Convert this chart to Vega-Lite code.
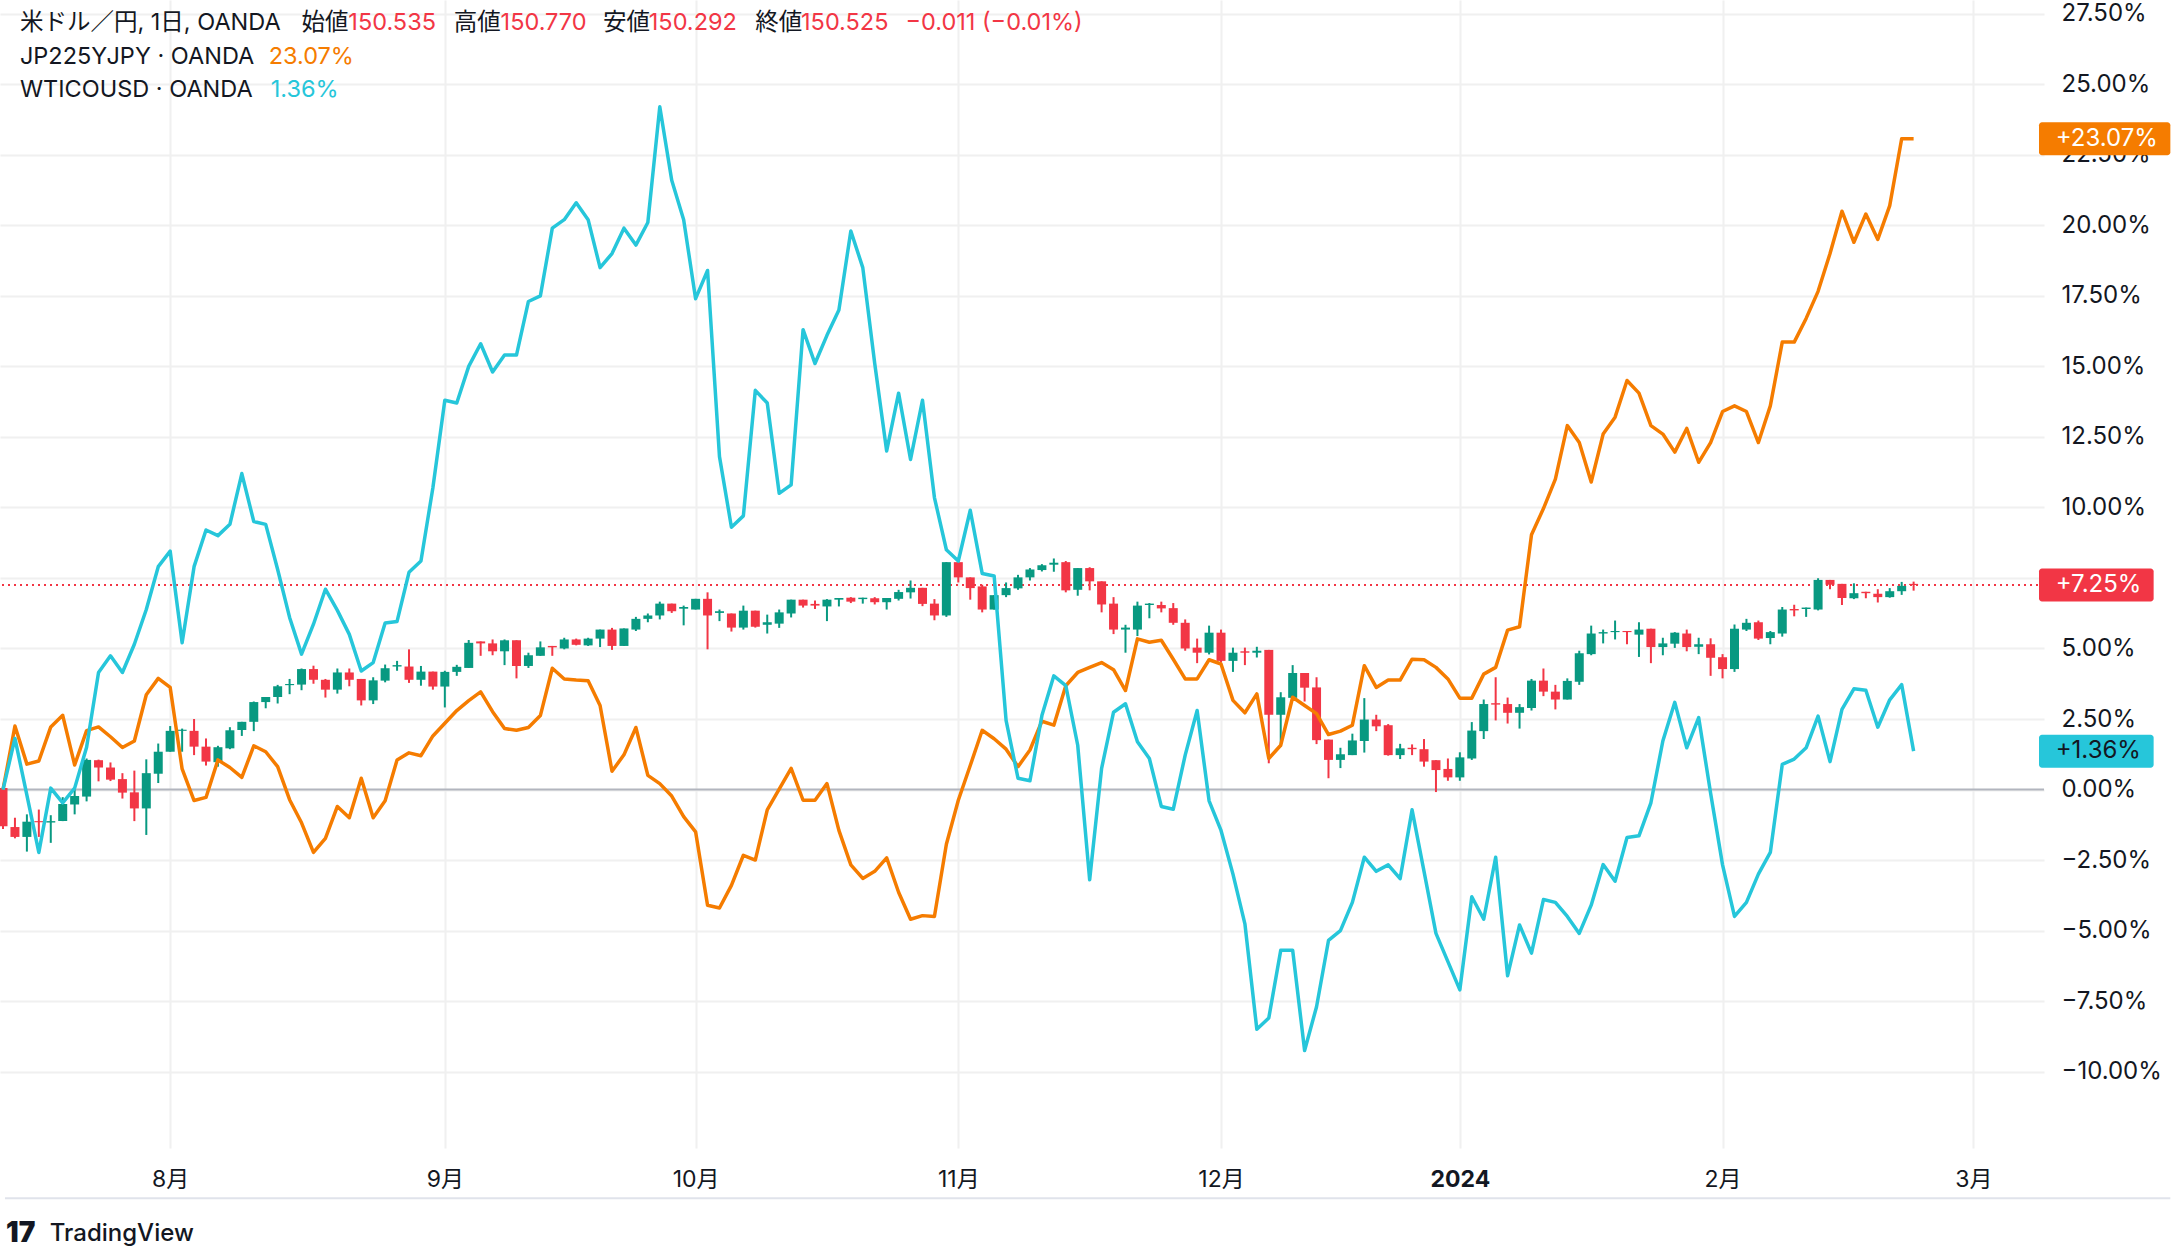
{
"$schema": "https://vega.github.io/schema/vega-lite/v6.json",
"width": 2044, "height": 1148,
"autosize": {"type": "none"},
"padding": {"left": 0, "top": 0, "right": 132, "bottom": 107},
"background": "#ffffff",
"config": {
"view": {"stroke": null},
"font": "Inter, Noto Sans CJK JP, sans-serif",
"axisX": {"title": null, "grid": true, "gridColor": "#f0f0f0", "gridWidth": 2, "ticks": false, "tickSize": 0, "domain": false, "labelFontSize": 23, "labelColor": "#131722", "labelPadding": 31, "labelBaseline": "middle", "labelOverlap": false, "labelFlush": false, "labelBound": false, "zindex": 0},
"axisY": {"title": null, "grid": true, "gridColor": "#f0f0f0", "gridWidth": 2, "ticks": false, "tickSize": 0, "domain": false, "labelFontSize": 24, "labelColor": "#131722", "labelPadding": 17, "labelAlign": "left", "labelBaseline": "middle", "labelOverlap": false, "labelFlush": false, "labelBound": false, "zindex": 0}
},
"datasets": {
"c": [
{"k":-1,"o":0.05,"h":0.15,"l":-1.4,"c":-1.3},
{"k":0,"o":-1.33,"h":-1.0,"l":-1.73,"c":-1.68},
{"k":1,"o":-1.68,"h":-0.88,"l":-2.2,"c":-1.14},
{"k":2,"o":-1.12,"h":-0.71,"l":-1.68,"c":-1.16},
{"k":3,"o":-1.17,"h":-0.91,"l":-1.89,"c":-1.12},
{"k":4,"o":-1.12,"h":-0.27,"l":-1.12,"c":-0.51},
{"k":5,"o":-0.53,"h":0.08,"l":-0.88,"c":-0.23},
{"k":6,"o":-0.25,"h":1.1,"l":-0.42,"c":1.05},
{"k":7,"o":1.04,"h":1.06,"l":0.29,"c":0.78},
{"k":8,"o":0.78,"h":0.96,"l":0.3,"c":0.35},
{"k":9,"o":0.37,"h":0.58,"l":-0.32,"c":-0.11},
{"k":10,"o":-0.1,"h":0.67,"l":-1.12,"c":-0.67},
{"k":11,"o":-0.67,"h":1.07,"l":-1.61,"c":0.58},
{"k":12,"o":0.56,"h":1.63,"l":0.23,"c":1.34},
{"k":13,"o":1.34,"h":2.25,"l":1.34,"c":2.08},
{"k":14,"o":2.08,"h":2.16,"l":1.34,"c":2.12},
{"k":15,"o":2.08,"h":2.5,"l":1.22,"c":1.52},
{"k":16,"o":1.52,"h":1.81,"l":0.85,"c":0.99},
{"k":17,"o":0.97,"h":1.55,"l":0.81,"c":1.5},
{"k":18,"o":1.46,"h":2.21,"l":1.43,"c":2.1},
{"k":19,"o":2.11,"h":2.4,"l":1.9,"c":2.4},
{"k":20,"o":2.4,"h":3.12,"l":2.07,"c":3.1},
{"k":21,"o":3.1,"h":3.28,"l":2.88,"c":3.28},
{"k":22,"o":3.28,"h":3.71,"l":3.05,"c":3.66},
{"k":23,"o":3.7,"h":3.92,"l":3.38,"c":3.74},
{"k":24,"o":3.72,"h":4.29,"l":3.52,"c":4.27},
{"k":25,"o":4.27,"h":4.39,"l":3.75,"c":3.89},
{"k":26,"o":3.89,"h":3.92,"l":3.26,"c":3.54},
{"k":27,"o":3.54,"h":4.29,"l":3.4,"c":4.15},
{"k":28,"o":4.15,"h":4.29,"l":3.66,"c":3.89},
{"k":29,"o":3.92,"h":3.92,"l":2.98,"c":3.16},
{"k":30,"o":3.16,"h":3.98,"l":3.03,"c":3.87},
{"k":31,"o":3.86,"h":4.43,"l":3.8,"c":4.3},
{"k":32,"o":4.36,"h":4.56,"l":4.21,"c":4.41},
{"k":33,"o":4.36,"h":4.97,"l":3.78,"c":3.89},
{"k":34,"o":3.89,"h":4.38,"l":3.68,"c":4.18},
{"k":35,"o":4.18,"h":4.18,"l":3.54,"c":3.65},
{"k":36,"o":3.65,"h":4.21,"l":2.91,"c":4.17},
{"k":37,"o":4.17,"h":4.42,"l":4.03,"c":4.35},
{"k":38,"o":4.31,"h":5.3,"l":4.31,"c":5.2},
{"k":39,"o":5.25,"h":5.25,"l":4.74,"c":5.18},
{"k":40,"o":5.18,"h":5.32,"l":4.76,"c":4.9},
{"k":41,"o":4.9,"h":5.32,"l":4.41,"c":5.29},
{"k":42,"o":5.29,"h":5.29,"l":3.94,"c":4.38},
{"k":43,"o":4.38,"h":4.85,"l":4.31,"c":4.76},
{"k":44,"o":4.74,"h":5.25,"l":4.74,"c":5.04},
{"k":45,"o":5.09,"h":5.09,"l":4.74,"c":5.04},
{"k":46,"o":5.0,"h":5.38,"l":4.97,"c":5.32},
{"k":47,"o":5.32,"h":5.35,"l":5.11,"c":5.13},
{"k":48,"o":5.11,"h":5.38,"l":5.09,"c":5.35},
{"k":49,"o":5.35,"h":5.67,"l":5.05,"c":5.67},
{"k":50,"o":5.67,"h":5.73,"l":4.95,"c":5.09},
{"k":51,"o":5.09,"h":5.71,"l":5.09,"c":5.71},
{"k":52,"o":5.67,"h":6.12,"l":5.62,"c":6.05},
{"k":53,"o":6.05,"h":6.24,"l":5.93,"c":6.17},
{"k":54,"o":6.17,"h":6.66,"l":6.03,"c":6.59},
{"k":55,"o":6.59,"h":6.59,"l":6.26,"c":6.32},
{"k":56,"o":6.41,"h":6.52,"l":5.82,"c":6.47},
{"k":57,"o":6.38,"h":6.76,"l":6.38,"c":6.76},
{"k":58,"o":6.76,"h":6.99,"l":4.97,"c":6.17},
{"k":59,"o":6.26,"h":6.38,"l":5.97,"c":6.32},
{"k":60,"o":6.24,"h":6.24,"l":5.6,"c":5.74},
{"k":61,"o":5.74,"h":6.52,"l":5.67,"c":6.34},
{"k":62,"o":6.34,"h":6.34,"l":5.74,"c":5.77},
{"k":63,"o":5.84,"h":6.2,"l":5.53,"c":5.93},
{"k":64,"o":5.88,"h":6.38,"l":5.73,"c":6.28},
{"k":65,"o":6.24,"h":6.73,"l":6.1,"c":6.73},
{"k":66,"o":6.73,"h":6.73,"l":6.45,"c":6.52},
{"k":67,"o":6.58,"h":6.7,"l":6.4,"c":6.52},
{"k":68,"o":6.49,"h":6.75,"l":5.97,"c":6.73},
{"k":69,"o":6.73,"h":6.79,"l":6.49,"c":6.79},
{"k":70,"o":6.8,"h":6.82,"l":6.61,"c":6.66},
{"k":71,"o":6.75,"h":6.8,"l":6.59,"c":6.8},
{"k":72,"o":6.78,"h":6.82,"l":6.56,"c":6.64},
{"k":73,"o":6.64,"h":6.79,"l":6.38,"c":6.79},
{"k":74,"o":6.76,"h":7.08,"l":6.7,"c":7.0},
{"k":75,"o":6.99,"h":7.41,"l":6.77,"c":7.15},
{"k":76,"o":7.15,"h":7.15,"l":6.5,"c":6.58},
{"k":77,"o":6.59,"h":6.75,"l":6.0,"c":6.17},
{"k":78,"o":6.17,"h":8.06,"l":6.12,"c":8.06},
{"k":79,"o":8.06,"h":8.1,"l":7.34,"c":7.52},
{"k":80,"o":7.52,"h":7.52,"l":6.73,"c":7.14},
{"k":81,"o":7.2,"h":7.26,"l":6.28,"c":6.38},
{"k":82,"o":6.38,"h":6.89,"l":6.38,"c":6.89},
{"k":83,"o":6.89,"h":7.34,"l":6.82,"c":7.14},
{"k":84,"o":7.13,"h":7.61,"l":7.08,"c":7.52},
{"k":85,"o":7.52,"h":7.85,"l":7.41,"c":7.8},
{"k":86,"o":7.78,"h":7.99,"l":7.73,"c":7.95},
{"k":87,"o":7.97,"h":8.19,"l":7.72,"c":8.04},
{"k":88,"o":8.06,"h":8.1,"l":6.99,"c":7.06},
{"k":89,"o":7.08,"h":7.85,"l":6.87,"c":7.85},
{"k":90,"o":7.85,"h":7.88,"l":7.06,"c":7.38},
{"k":91,"o":7.38,"h":7.38,"l":6.28,"c":6.56},
{"k":92,"o":6.59,"h":6.82,"l":5.51,"c":5.67},
{"k":93,"o":5.67,"h":5.84,"l":4.85,"c":5.74},
{"k":94,"o":5.67,"h":6.66,"l":5.44,"c":6.52},
{"k":95,"o":6.54,"h":6.61,"l":6.07,"c":6.59},
{"k":96,"o":6.54,"h":6.66,"l":6.28,"c":6.42},
{"k":97,"o":6.43,"h":6.61,"l":5.84,"c":5.91},
{"k":98,"o":5.91,"h":6.03,"l":4.92,"c":5.0},
{"k":99,"o":5.03,"h":5.35,"l":4.48,"c":4.85},
{"k":100,"o":4.85,"h":5.81,"l":4.79,"c":5.56},
{"k":101,"o":5.56,"h":5.67,"l":4.5,"c":4.56},
{"k":102,"o":4.56,"h":5.03,"l":4.17,"c":4.85},
{"k":103,"o":4.9,"h":5.03,"l":4.41,"c":4.85},
{"k":104,"o":4.85,"h":5.06,"l":4.68,"c":4.92},
{"k":105,"o":4.95,"h":4.95,"l":0.93,"c":2.65},
{"k":106,"o":2.65,"h":3.45,"l":1.52,"c":3.27},
{"k":107,"o":3.25,"h":4.41,"l":3.16,"c":4.13},
{"k":108,"o":4.13,"h":4.13,"l":3.12,"c":3.61},
{"k":109,"o":3.62,"h":3.98,"l":1.61,"c":1.75},
{"k":110,"o":1.77,"h":1.77,"l":0.4,"c":1.05},
{"k":111,"o":1.05,"h":1.48,"l":0.76,"c":1.25},
{"k":112,"o":1.22,"h":1.98,"l":1.22,"c":1.74},
{"k":113,"o":1.72,"h":3.24,"l":1.31,"c":2.48},
{"k":114,"o":2.48,"h":2.65,"l":2.07,"c":2.24},
{"k":115,"o":2.28,"h":2.32,"l":1.2,"c":1.22},
{"k":116,"o":1.22,"h":1.62,"l":1.08,"c":1.46},
{"k":117,"o":1.48,"h":1.6,"l":1.22,"c":1.43},
{"k":118,"o":1.43,"h":1.79,"l":0.81,"c":0.99},
{"k":119,"o":1.04,"h":1.04,"l":-0.09,"c":0.69},
{"k":120,"o":0.73,"h":1.1,"l":0.31,"c":0.43},
{"k":121,"o":0.43,"h":1.32,"l":0.31,"c":1.14},
{"k":122,"o":1.1,"h":2.39,"l":1.05,"c":2.09},
{"k":123,"o":2.07,"h":3.19,"l":1.79,"c":3.03},
{"k":124,"o":3.06,"h":3.98,"l":2.45,"c":3.01},
{"k":125,"o":3.03,"h":3.26,"l":2.34,"c":2.72},
{"k":126,"o":2.72,"h":3.03,"l":2.16,"c":2.92},
{"k":127,"o":2.89,"h":3.92,"l":2.8,"c":3.86},
{"k":128,"o":3.86,"h":4.29,"l":3.31,"c":3.47},
{"k":129,"o":3.47,"h":3.71,"l":2.84,"c":3.19},
{"k":130,"o":3.19,"h":3.94,"l":3.19,"c":3.85},
{"k":131,"o":3.82,"h":4.92,"l":3.71,"c":4.83},
{"k":132,"o":4.8,"h":5.81,"l":4.76,"c":5.53},
{"k":133,"o":5.53,"h":5.67,"l":5.18,"c":5.58},
{"k":134,"o":5.58,"h":5.99,"l":5.32,"c":5.62},
{"k":135,"o":5.62,"h":5.62,"l":5.15,"c":5.58},
{"k":136,"o":5.49,"h":5.93,"l":4.7,"c":5.67},
{"k":137,"o":5.7,"h":5.7,"l":4.48,"c":5.05},
{"k":138,"o":5.05,"h":5.38,"l":4.76,"c":5.18},
{"k":139,"o":5.17,"h":5.58,"l":5.02,"c":5.56},
{"k":140,"o":5.53,"h":5.67,"l":4.9,"c":5.05},
{"k":141,"o":5.06,"h":5.38,"l":4.8,"c":5.15},
{"k":142,"o":5.15,"h":5.36,"l":4.03,"c":4.67},
{"k":143,"o":4.69,"h":4.8,"l":3.94,"c":4.27},
{"k":144,"o":4.27,"h":5.85,"l":4.17,"c":5.7},
{"k":145,"o":5.67,"h":6.05,"l":5.62,"c":5.91},
{"k":146,"o":5.93,"h":5.99,"l":5.3,"c":5.35},
{"k":147,"o":5.37,"h":5.62,"l":5.15,"c":5.58},
{"k":148,"o":5.53,"h":6.47,"l":5.42,"c":6.38},
{"k":149,"o":6.4,"h":6.55,"l":6.14,"c":6.35},
{"k":150,"o":6.4,"h":6.45,"l":6.12,"c":6.45},
{"k":151,"o":6.38,"h":7.49,"l":6.35,"c":7.43},
{"k":152,"o":7.43,"h":7.43,"l":7.1,"c":7.26},
{"k":153,"o":7.29,"h":7.29,"l":6.54,"c":6.79},
{"k":154,"o":6.78,"h":7.31,"l":6.75,"c":6.96},
{"k":155,"o":7.01,"h":7.01,"l":6.78,"c":6.96},
{"k":156,"o":6.94,"h":7.1,"l":6.63,"c":6.82},
{"k":157,"o":6.82,"h":7.14,"l":6.8,"c":7.03},
{"k":158,"o":7.03,"h":7.36,"l":6.9,"c":7.22},
{"k":159,"o":7.29,"h":7.37,"l":7.05,"c":7.25}
],
"ln": [
{"k":-1,"jp":0,"wti":0},
{"k":0,"jp":2.25,"wti":1.81},
{"k":1,"jp":0.9,"wti":-0.2},
{"k":2,"jp":1.01,"wti":-2.23},
{"k":3,"jp":2.22,"wti":0.05},
{"k":4,"jp":2.63,"wti":-0.47},
{"k":5,"jp":0.87,"wti":0.05},
{"k":6,"jp":2.09,"wti":1.5},
{"k":7,"jp":2.22,"wti":4.15},
{"k":8,"jp":1.87,"wti":4.74},
{"k":9,"jp":1.49,"wti":4.15},
{"k":10,"jp":1.72,"wti":5.15},
{"k":11,"jp":3.36,"wti":6.38},
{"k":12,"jp":3.94,"wti":7.9},
{"k":13,"jp":3.62,"wti":8.45},
{"k":14,"jp":0.73,"wti":5.2},
{"k":15,"jp":-0.39,"wti":7.9},
{"k":16,"jp":-0.28,"wti":9.2},
{"k":17,"jp":1.05,"wti":9.0},
{"k":18,"jp":0.78,"wti":9.4},
{"k":19,"jp":0.43,"wti":11.2},
{"k":20,"jp":1.55,"wti":9.5},
{"k":21,"jp":1.34,"wti":9.4},
{"k":22,"jp":0.81,"wti":7.8},
{"k":23,"jp":-0.36,"wti":6.1},
{"k":24,"jp":-1.18,"wti":4.8},
{"k":25,"jp":-2.23,"wti":5.86},
{"k":26,"jp":-1.73,"wti":7.1},
{"k":27,"jp":-0.6,"wti":6.35},
{"k":28,"jp":-1.0,"wti":5.5},
{"k":29,"jp":0.4,"wti":4.2},
{"k":30,"jp":-1.0,"wti":4.5},
{"k":31,"jp":-0.4,"wti":5.9},
{"k":32,"jp":1.05,"wti":5.96},
{"k":33,"jp":1.3,"wti":7.7},
{"k":34,"jp":1.2,"wti":8.1},
{"k":35,"jp":1.9,"wti":10.7},
{"k":36,"jp":2.35,"wti":13.8},
{"k":37,"jp":2.8,"wti":13.7},
{"k":38,"jp":3.15,"wti":15.0},
{"k":39,"jp":3.46,"wti":15.8},
{"k":40,"jp":2.76,"wti":14.8},
{"k":41,"jp":2.16,"wti":15.4},
{"k":42,"jp":2.1,"wti":15.4},
{"k":43,"jp":2.2,"wti":17.3},
{"k":44,"jp":2.62,"wti":17.5},
{"k":45,"jp":4.3,"wti":19.9},
{"k":46,"jp":3.92,"wti":20.2},
{"k":47,"jp":3.88,"wti":20.8},
{"k":48,"jp":3.86,"wti":20.2},
{"k":49,"jp":2.98,"wti":18.5},
{"k":50,"jp":0.65,"wti":19.0},
{"k":51,"jp":1.23,"wti":19.9},
{"k":52,"jp":2.2,"wti":19.3},
{"k":53,"jp":0.5,"wti":20.1},
{"k":54,"jp":0.21,"wti":24.2},
{"k":55,"jp":-0.23,"wti":21.6},
{"k":56,"jp":-0.96,"wti":20.2},
{"k":57,"jp":-1.5,"wti":17.4},
{"k":58,"jp":-4.1,"wti":18.4},
{"k":59,"jp":-4.2,"wti":11.8},
{"k":60,"jp":-3.4,"wti":9.3},
{"k":61,"jp":-2.33,"wti":9.7},
{"k":62,"jp":-2.5,"wti":14.15},
{"k":63,"jp":-0.72,"wti":13.7},
{"k":64,"jp":0.01,"wti":10.5},
{"k":65,"jp":0.75,"wti":10.8},
{"k":66,"jp":-0.38,"wti":16.3},
{"k":67,"jp":-0.38,"wti":15.1},
{"k":68,"jp":0.21,"wti":16.1},
{"k":69,"jp":-1.45,"wti":17.0},
{"k":70,"jp":-2.67,"wti":19.8},
{"k":71,"jp":-3.15,"wti":18.5},
{"k":72,"jp":-2.9,"wti":15.1},
{"k":73,"jp":-2.42,"wti":12.0},
{"k":74,"jp":-3.64,"wti":14.05},
{"k":75,"jp":-4.6,"wti":11.7},
{"k":76,"jp":-4.47,"wti":13.8},
{"k":77,"jp":-4.5,"wti":10.35},
{"k":78,"jp":-1.94,"wti":8.5},
{"k":79,"jp":-0.38,"wti":8.1},
{"k":80,"jp":0.85,"wti":9.9},
{"k":81,"jp":2.1,"wti":7.66},
{"k":82,"jp":1.8,"wti":7.57},
{"k":83,"jp":1.43,"wti":2.45},
{"k":84,"jp":0.81,"wti":0.4},
{"k":85,"jp":1.4,"wti":0.31},
{"k":86,"jp":2.42,"wti":2.62},
{"k":87,"jp":2.28,"wti":4.03},
{"k":88,"jp":3.68,"wti":3.68},
{"k":89,"jp":4.15,"wti":1.57},
{"k":90,"jp":4.33,"wti":-3.2},
{"k":91,"jp":4.5,"wti":0.75},
{"k":92,"jp":4.25,"wti":2.74},
{"k":93,"jp":3.51,"wti":3.04},
{"k":94,"jp":5.34,"wti":1.69},
{"k":95,"jp":5.22,"wti":1.1},
{"k":96,"jp":5.29,"wti":-0.6},
{"k":97,"jp":4.62,"wti":-0.7},
{"k":98,"jp":3.92,"wti":1.22},
{"k":99,"jp":3.92,"wti":2.8},
{"k":100,"jp":4.6,"wti":-0.4},
{"k":101,"jp":4.45,"wti":-1.45},
{"k":102,"jp":3.16,"wti":-3.0},
{"k":103,"jp":2.72,"wti":-4.76},
{"k":104,"jp":3.39,"wti":-8.5},
{"k":105,"jp":1.1,"wti":-8.1},
{"k":106,"jp":1.57,"wti":-5.7},
{"k":107,"jp":3.27,"wti":-5.7},
{"k":108,"jp":2.98,"wti":-9.25},
{"k":109,"jp":2.69,"wti":-7.7},
{"k":110,"jp":1.95,"wti":-5.35},
{"k":111,"jp":2.07,"wti":-5.0},
{"k":112,"jp":2.28,"wti":-4.0},
{"k":113,"jp":4.39,"wti":-2.4},
{"k":114,"jp":3.62,"wti":-2.9},
{"k":115,"jp":3.88,"wti":-2.67},
{"k":116,"jp":3.88,"wti":-3.16},
{"k":117,"jp":4.62,"wti":-0.72},
{"k":118,"jp":4.6,"wti":-2.9},
{"k":119,"jp":4.33,"wti":-5.1},
{"k":120,"jp":3.92,"wti":-6.1},
{"k":121,"jp":3.24,"wti":-7.1},
{"k":122,"jp":3.24,"wti":-3.8},
{"k":123,"jp":4.09,"wti":-4.6},
{"k":124,"jp":4.33,"wti":-2.4},
{"k":125,"jp":5.65,"wti":-6.6},
{"k":126,"jp":5.77,"wti":-4.8},
{"k":127,"jp":9.03,"wti":-5.8},
{"k":128,"jp":9.96,"wti":-3.9},
{"k":129,"jp":11.0,"wti":-4.0},
{"k":130,"jp":12.9,"wti":-4.5},
{"k":131,"jp":12.3,"wti":-5.1},
{"k":132,"jp":10.9,"wti":-4.1},
{"k":133,"jp":12.6,"wti":-2.66},
{"k":134,"jp":13.2,"wti":-3.25},
{"k":135,"jp":14.5,"wti":-1.7},
{"k":136,"jp":14.05,"wti":-1.64},
{"k":137,"jp":12.9,"wti":-0.47},
{"k":138,"jp":12.6,"wti":1.72},
{"k":139,"jp":11.96,"wti":3.09},
{"k":140,"jp":12.8,"wti":1.48},
{"k":141,"jp":11.6,"wti":2.55},
{"k":142,"jp":12.3,"wti":-0.13},
{"k":143,"jp":13.4,"wti":-2.67},
{"k":144,"jp":13.6,"wti":-4.5},
{"k":145,"jp":13.4,"wti":-4.0},
{"k":146,"jp":12.3,"wti":-3.0},
{"k":147,"jp":13.6,"wti":-2.23},
{"k":148,"jp":15.86,"wti":0.89},
{"k":149,"jp":15.86,"wti":1.08},
{"k":150,"jp":16.7,"wti":1.48},
{"k":151,"jp":17.66,"wti":2.6},
{"k":152,"jp":19.0,"wti":0.99},
{"k":153,"jp":20.5,"wti":2.84},
{"k":154,"jp":19.4,"wti":3.57},
{"k":155,"jp":20.4,"wti":3.52},
{"k":156,"jp":19.5,"wti":2.21},
{"k":157,"jp":20.7,"wti":3.18},
{"k":158,"jp":23.07,"wti":3.72},
{"k":159,"jp":23.07,"wti":1.36}
],
"tags": [
{"s":"JP225","v":23.07,"t":"+23.07%"},
{"s":"USDJPY","v":7.25,"t":"+7.25%"},
{"s":"WTI","v":1.36,"t":"+1.36%"}
]
},
"layer": [
{
"data": {"values": [{"v": 0}]},
"mark": {"type": "rule", "color": "#b2b5be", "strokeWidth": 2},
"encoding": {"y": {"field": "v", "type": "quantitative", "scale": {"domain": [-12.53, 27.81], "nice": false, "zero": false}}}
},
{
"data": {"values": [{"v": 7.25}]},
"mark": {"type": "rule", "color": "#f23645", "strokeWidth": 2, "strokeDash": [2, 4]},
"encoding": {"y": {"field": "v", "type": "quantitative", "scale": {"domain": [-12.53, 27.81], "nice": false, "zero": false}}}
},
{
"data": {"name": "c"},
"mark": {"type": "rule", "strokeWidth": 2},
"encoding": {
"x": {"field": "k", "type": "quantitative", "scale": {"domain": [-0.833, 169.5], "nice": false, "zero": false},
 "axis": {"title": null, "orient": "bottom", "zindex": 0, "values": [13, 36, 57, 79, 101, 121, 143, 164],
  "labelExpr": "datum.value == 13 ? '8月' : datum.value == 36 ? '9月' : datum.value == 57 ? '10月' : datum.value == 79 ? '11月' : datum.value == 101 ? '12月' : datum.value == 121 ? '2024' : datum.value == 143 ? '2月' : '3月'",
  "labelFontWeight": {"condition": {"test": "datum.value == 121", "value": "bold"}, "value": "normal"}}},
"y": {"field": "l", "type": "quantitative", "scale": {"domain": [-12.53, 27.81], "nice": false, "zero": false},
 "axis": {"title": null, "orient": "right", "zindex": 0, "values": [-10, -7.5, -5, -2.5, 0, 2.5, 5, 7.5, 10, 12.5, 15, 17.5, 20, 22.5, 25, 27.5],
  "labelExpr": "datum.value == 7.5 ? '' : replace(format(datum.value, '.2f'), '-', '−') + '%'"}},
"y2": {"field": "h"},
"color": {"condition": {"test": "datum.c >= datum.o", "value": "#089981"}, "value": "#f23645"}
}
},
{
"data": {"name": "c"},
"mark": {"type": "bar", "size": 9, "opacity": 1},
"encoding": {
"x": {"field": "k", "type": "quantitative", "scale": {"domain": [-0.833, 169.5], "nice": false, "zero": false}},
"y": {"field": "o", "type": "quantitative", "scale": {"domain": [-12.53, 27.81], "nice": false, "zero": false}},
"y2": {"field": "c"},
"color": {"condition": {"test": "datum.c >= datum.o", "value": "#089981"}, "value": "#f23645"}
}
},
{
"data": {"name": "ln"},
"mark": {"type": "line", "color": "#f57c00", "strokeWidth": 3.5, "strokeJoin": "round"},
"encoding": {
"x": {"field": "k", "type": "quantitative", "scale": {"domain": [-0.833, 169.5], "nice": false, "zero": false}},
"y": {"field": "jp", "type": "quantitative", "scale": {"domain": [-12.53, 27.81], "nice": false, "zero": false}}}
},
{
"data": {"name": "ln"},
"mark": {"type": "line", "color": "#26c6da", "strokeWidth": 3.5, "strokeJoin": "round"},
"encoding": {
"x": {"field": "k", "type": "quantitative", "scale": {"domain": [-0.833, 169.5], "nice": false, "zero": false}},
"y": {"field": "wti", "type": "quantitative", "scale": {"domain": [-12.53, 27.81], "nice": false, "zero": false}}}
},
{
"data": {"name": "tags"},
"transform": [{"filter": "datum.s == 'JP225'"}],
"mark": {"type": "bar", "size": 33, "orient": "horizontal", "cornerRadius": 3, "color": "#f57c00", "opacity": 1},
"encoding": {
"x": {"datum": 169.5, "type": "quantitative", "scale": {"domain": [-0.833, 169.5], "nice": false, "zero": false}},
"x2": {"datum": 180.5},
"y": {"field": "v", "type": "quantitative", "scale": {"domain": [-12.53, 27.81], "nice": false, "zero": false}}
}
},
{
"data": {"name": "tags"},
"transform": [{"filter": "datum.s != 'JP225'"}],
"mark": {"type": "bar", "size": 33, "orient": "horizontal", "cornerRadius": 3, "opacity": 1},
"encoding": {
"x": {"datum": 169.5, "type": "quantitative", "scale": {"domain": [-0.833, 169.5], "nice": false, "zero": false}},
"x2": {"datum": 179.1},
"y": {"field": "v", "type": "quantitative", "scale": {"domain": [-12.53, 27.81], "nice": false, "zero": false}},
"color": {"condition": {"test": "datum.s == 'WTI'", "value": "#26c6da"}, "value": "#f23645"}
}
},
{
"data": {"name": "tags"},
"mark": {"type": "text", "align": "left", "baseline": "middle", "fontSize": 24},
"encoding": {
"x": {"datum": 170.9, "type": "quantitative", "scale": {"domain": [-0.833, 169.5], "nice": false, "zero": false}},
"y": {"field": "v", "type": "quantitative", "scale": {"domain": [-12.53, 27.81], "nice": false, "zero": false}},
"text": {"field": "t"},
"color": {"condition": {"test": "datum.s == 'WTI'", "value": "#131722"}, "value": "#ffffff"}
}
},
{"data": {"values": [{"t": "米ドル／円, 1日, OANDA"}]}, "mark": {"type": "text", "align": "left", "baseline": "middle", "fontSize": 23.5, "color": "#131722"},
 "encoding": {"x": {"datum": 0.417, "type": "quantitative", "scale": {"domain": [-0.833, 169.5], "nice": false, "zero": false}}, "y": {"datum": 27.18, "type": "quantitative", "scale": {"domain": [-12.53, 27.81], "nice": false, "zero": false}}, "text": {"field": "t"}}},
{"data": {"values": [{"t": "始値"}]}, "mark": {"type": "text", "align": "left", "baseline": "middle", "fontSize": 23.5, "color": "#131722"},
 "encoding": {"x": {"datum": 24.0, "type": "quantitative", "scale": {"domain": [-0.833, 169.5], "nice": false, "zero": false}}, "y": {"datum": 27.18, "type": "quantitative", "scale": {"domain": [-12.53, 27.81], "nice": false, "zero": false}}, "text": {"field": "t"}}},
{"data": {"values": [{"t": "150.535"}]}, "mark": {"type": "text", "align": "left", "baseline": "middle", "fontSize": 23.5, "color": "#f23645"},
 "encoding": {"x": {"datum": 27.92, "type": "quantitative", "scale": {"domain": [-0.833, 169.5], "nice": false, "zero": false}}, "y": {"datum": 27.18, "type": "quantitative", "scale": {"domain": [-12.53, 27.81], "nice": false, "zero": false}}, "text": {"field": "t"}}},
{"data": {"values": [{"t": "高値"}]}, "mark": {"type": "text", "align": "left", "baseline": "middle", "fontSize": 23.5, "color": "#131722"},
 "encoding": {"x": {"datum": 36.75, "type": "quantitative", "scale": {"domain": [-0.833, 169.5], "nice": false, "zero": false}}, "y": {"datum": 27.18, "type": "quantitative", "scale": {"domain": [-12.53, 27.81], "nice": false, "zero": false}}, "text": {"field": "t"}}},
{"data": {"values": [{"t": "150.770"}]}, "mark": {"type": "text", "align": "left", "baseline": "middle", "fontSize": 23.5, "color": "#f23645"},
 "encoding": {"x": {"datum": 40.67, "type": "quantitative", "scale": {"domain": [-0.833, 169.5], "nice": false, "zero": false}}, "y": {"datum": 27.18, "type": "quantitative", "scale": {"domain": [-12.53, 27.81], "nice": false, "zero": false}}, "text": {"field": "t"}}},
{"data": {"values": [{"t": "安値"}]}, "mark": {"type": "text", "align": "left", "baseline": "middle", "fontSize": 23.5, "color": "#131722"},
 "encoding": {"x": {"datum": 49.25, "type": "quantitative", "scale": {"domain": [-0.833, 169.5], "nice": false, "zero": false}}, "y": {"datum": 27.18, "type": "quantitative", "scale": {"domain": [-12.53, 27.81], "nice": false, "zero": false}}, "text": {"field": "t"}}},
{"data": {"values": [{"t": "150.292"}]}, "mark": {"type": "text", "align": "left", "baseline": "middle", "fontSize": 23.5, "color": "#f23645"},
 "encoding": {"x": {"datum": 53.08, "type": "quantitative", "scale": {"domain": [-0.833, 169.5], "nice": false, "zero": false}}, "y": {"datum": 27.18, "type": "quantitative", "scale": {"domain": [-12.53, 27.81], "nice": false, "zero": false}}, "text": {"field": "t"}}},
{"data": {"values": [{"t": "終値"}]}, "mark": {"type": "text", "align": "left", "baseline": "middle", "fontSize": 23.5, "color": "#131722"},
 "encoding": {"x": {"datum": 62.0, "type": "quantitative", "scale": {"domain": [-0.833, 169.5], "nice": false, "zero": false}}, "y": {"datum": 27.18, "type": "quantitative", "scale": {"domain": [-12.53, 27.81], "nice": false, "zero": false}}, "text": {"field": "t"}}},
{"data": {"values": [{"t": "150.525"}]}, "mark": {"type": "text", "align": "left", "baseline": "middle", "fontSize": 23.5, "color": "#f23645"},
 "encoding": {"x": {"datum": 65.83, "type": "quantitative", "scale": {"domain": [-0.833, 169.5], "nice": false, "zero": false}}, "y": {"datum": 27.18, "type": "quantitative", "scale": {"domain": [-12.53, 27.81], "nice": false, "zero": false}}, "text": {"field": "t"}}},
{"data": {"values": [{"t": "−0.011 (−0.01%)"}]}, "mark": {"type": "text", "align": "left", "baseline": "middle", "fontSize": 23.5, "color": "#f23645"},
 "encoding": {"x": {"datum": 74.58, "type": "quantitative", "scale": {"domain": [-0.833, 169.5], "nice": false, "zero": false}}, "y": {"datum": 27.18, "type": "quantitative", "scale": {"domain": [-12.53, 27.81], "nice": false, "zero": false}}, "text": {"field": "t"}}},
{"data": {"values": [{"t": "JP225YJPY · OANDA"}]}, "mark": {"type": "text", "align": "left", "baseline": "middle", "fontSize": 23.5, "color": "#131722"},
 "encoding": {"x": {"datum": 0.417, "type": "quantitative", "scale": {"domain": [-0.833, 169.5], "nice": false, "zero": false}}, "y": {"datum": 25.96, "type": "quantitative", "scale": {"domain": [-12.53, 27.81], "nice": false, "zero": false}}, "text": {"field": "t"}}},
{"data": {"values": [{"t": "23.07%"}]}, "mark": {"type": "text", "align": "left", "baseline": "middle", "fontSize": 23.5, "color": "#f57c00"},
 "encoding": {"x": {"datum": 21.25, "type": "quantitative", "scale": {"domain": [-0.833, 169.5], "nice": false, "zero": false}}, "y": {"datum": 25.96, "type": "quantitative", "scale": {"domain": [-12.53, 27.81], "nice": false, "zero": false}}, "text": {"field": "t"}}},
{"data": {"values": [{"t": "WTICOUSD · OANDA"}]}, "mark": {"type": "text", "align": "left", "baseline": "middle", "fontSize": 23.5, "color": "#131722"},
 "encoding": {"x": {"datum": 0.417, "type": "quantitative", "scale": {"domain": [-0.833, 169.5], "nice": false, "zero": false}}, "y": {"datum": 24.79, "type": "quantitative", "scale": {"domain": [-12.53, 27.81], "nice": false, "zero": false}}, "text": {"field": "t"}}},
{"data": {"values": [{"t": "1.36%"}]}, "mark": {"type": "text", "align": "left", "baseline": "middle", "fontSize": 23.5, "color": "#26c6da"},
 "encoding": {"x": {"datum": 21.42, "type": "quantitative", "scale": {"domain": [-0.833, 169.5], "nice": false, "zero": false}}, "y": {"datum": 24.79, "type": "quantitative", "scale": {"domain": [-12.53, 27.81], "nice": false, "zero": false}}, "text": {"field": "t"}}},
{"data": {"values": [{"t": "TradingView"}]}, "mark": {"type": "text", "align": "left", "baseline": "middle", "fontSize": 24, "fontWeight": 500, "color": "#131722"},
 "encoding": {"x": {"datum": 2.92, "type": "quantitative", "scale": {"domain": [-0.833, 169.5], "nice": false, "zero": false}}, "y": {"datum": -15.76, "type": "quantitative", "scale": {"domain": [-12.53, 27.81], "nice": false, "zero": false}}, "text": {"field": "t"}}},
{"data": {"values": [{"t": "17"}]}, "mark": {"type": "text", "align": "left", "baseline": "middle", "fontSize": 28, "fontWeight": 900, "color": "#131722"},
 "encoding": {"x": {"datum": -0.75, "type": "quantitative", "scale": {"domain": [-0.833, 169.5], "nice": false, "zero": false}}, "y": {"datum": -15.76, "type": "quantitative", "scale": {"domain": [-12.53, 27.81], "nice": false, "zero": false}}, "text": {"field": "t"}}},
{
"data": {"values": [{"v": -14.49}]},
"mark": {"type": "rule", "color": "#e0e3eb", "strokeWidth": 2},
"encoding": {
"x": {"datum": -0.833, "type": "quantitative", "scale": {"domain": [-0.833, 169.5], "nice": false, "zero": false}},
"x2": {"datum": 180.5},
"y": {"field": "v", "type": "quantitative", "scale": {"domain": [-12.53, 27.81], "nice": false, "zero": false}}
}
}
]
}
